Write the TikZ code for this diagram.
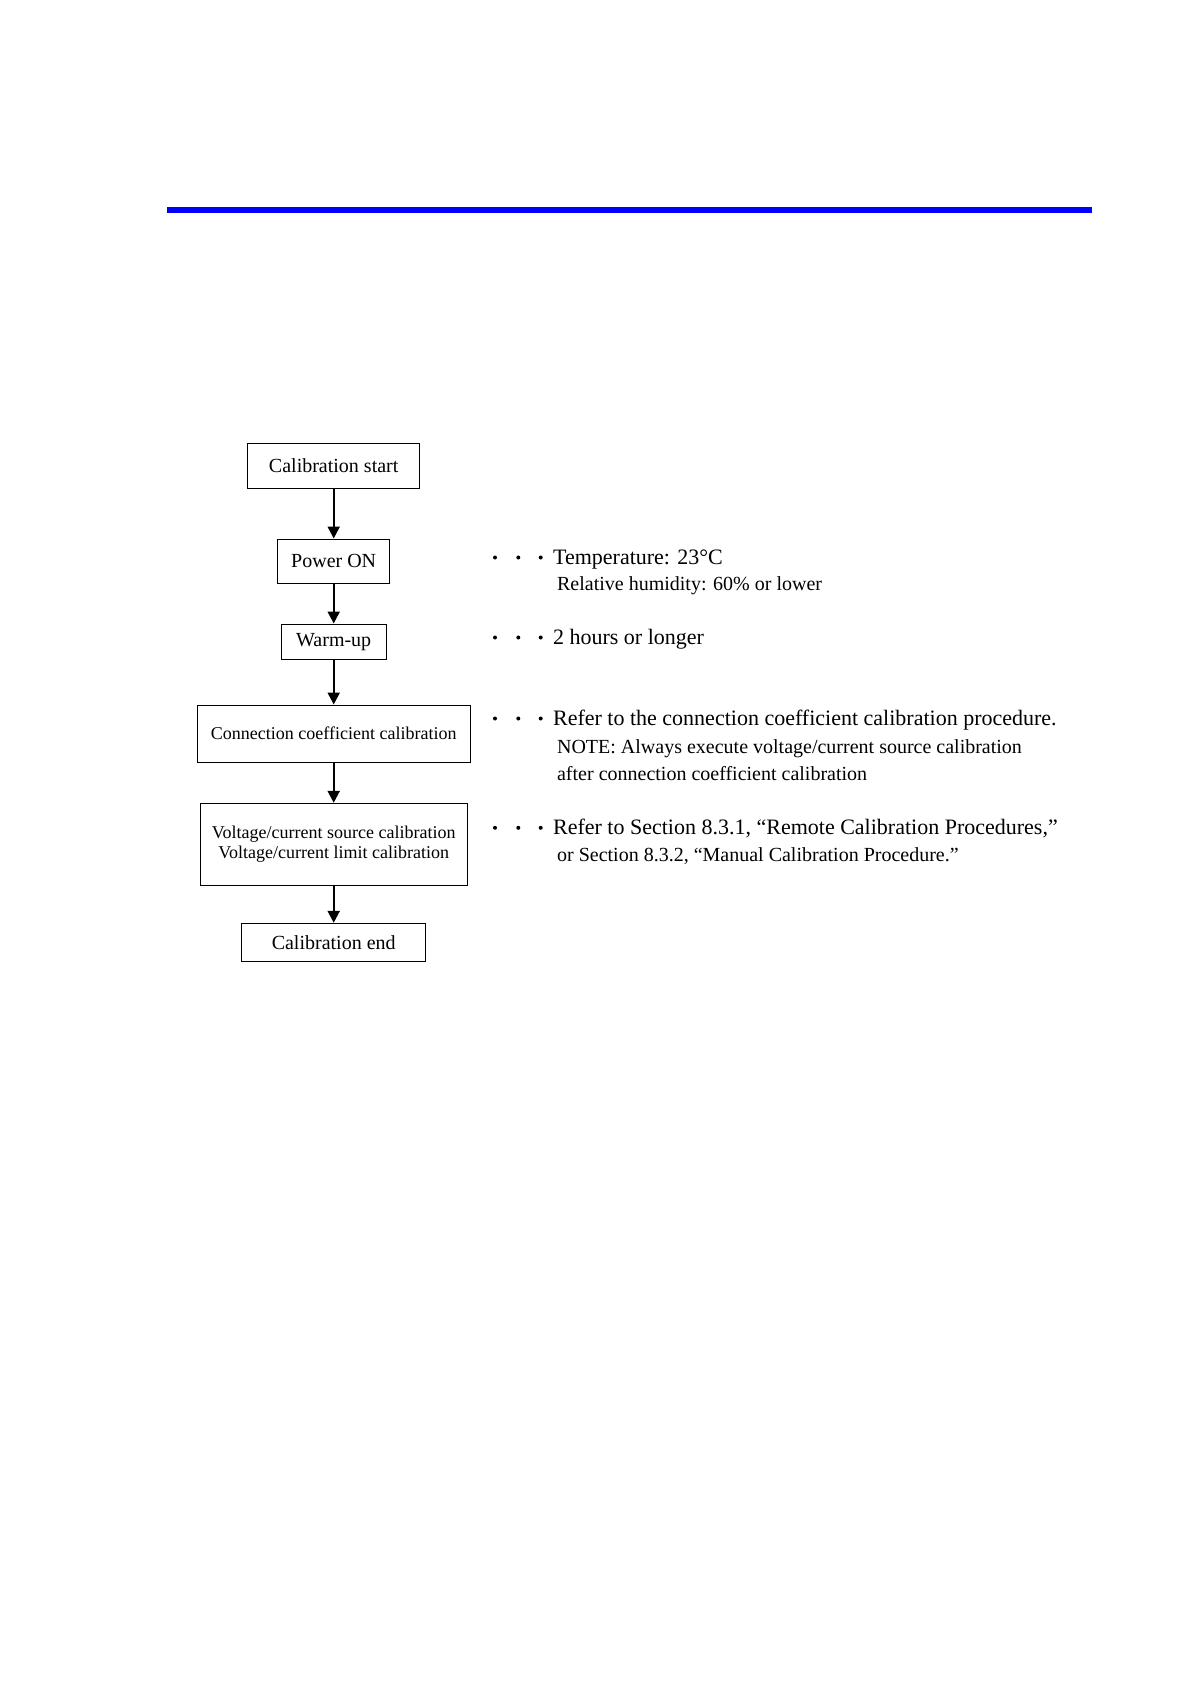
\documentclass[tikz,border=0pt]{standalone}
\usepackage{fontspec}
\setmainfont{Liberation Serif}
\usetikzlibrary{arrows.meta}
\begin{document}
\begin{tikzpicture}[x=0.5pt,y=-0.5pt,
  flowbox/.style={draw=black,line width=0.5pt,inner sep=0pt,align=center},
  ten/.style={font=\fontsize{10pt}{12pt}\selectfont},
  nine/.style={font=\fontsize{9pt}{10pt}\selectfont},
  flowarrow/.style={line width=1.1pt,-{Triangle[length=6pt,width=6pt]}},
  mainnote/.style={anchor=base west,inner sep=0pt,font=\fontsize{11pt}{13pt}\selectfont},
  subnote/.style={anchor=base west,inner sep=0pt,font=\fontsize{10pt}{12pt}\selectfont},
  leaddot/.style={fill=black,draw=none}]
\useasboundingbox (0,0) rectangle (1190,1684);
% blue rule
\fill[blue] (166.7,207) rectangle (1091.7,212.7);
% flow boxes
\node[flowbox,ten,minimum width=85.8pt,minimum height=22.7pt] (start) at (333.7,466) {Calibration start};
\node[flowbox,ten,minimum width=55.9pt,minimum height=22.4pt] (power) at (333.7,561.4) {Power ON};
\node[flowbox,ten,minimum width=52.3pt,minimum height=17.7pt] (warm) at (333.7,641.7) {Warm-up};
\node[flowbox,nine,minimum width=136.7pt,minimum height=28.5pt] (conn) at (333.7,733.5) {Connection coefficient calibration};
\node[flowbox,nine,minimum width=133.7pt,minimum height=41.2pt] (volt) at (333.7,844.5) {Voltage/current source calibration\\Voltage/current limit calibration};
\node[flowbox,ten,minimum width=92pt,minimum height=19.2pt] (end) at (333.7,942.5) {Calibration end};
% arrows
\draw[flowarrow] (start.south) -- (power.north);
\draw[flowarrow] (power.south) -- (warm.north);
\draw[flowarrow] (warm.south) -- (conn.north);
\draw[flowarrow] (conn.south) -- (volt.north);
\draw[flowarrow] (volt.south) -- (end.north);
% notes
\foreach \yy in {564,644,725,834.3}{
  \fill[leaddot] (495,\yy-6.5) circle (1pt);
  \fill[leaddot] (518.3,\yy-6.5) circle (1pt);
  \fill[leaddot] (540.7,\yy-6.5) circle (1pt);
}
\node[mainnote] (n1) at (552.7,564) {Temperature: 23°C};
\node[subnote] (n1b) at (556.7,590) {Relative humidity: 60\% or lower};
\node[mainnote] (n2) at (552.7,644) {2 hours or longer};
\node[mainnote] (n3) at (552.7,725) {Refer to the connection coefficient calibration procedure.};
\node[subnote] (n3b) at (556.7,753.3) {NOTE: Always execute voltage/current source calibration};
\node[subnote] (n3c) at (556.7,780) {after connection coefficient calibration};
\node[mainnote] (n4) at (552.7,834.3) {Refer to Section 8.3.1, “Remote Calibration Procedures,”};
\node[subnote] (n4b) at (556.7,861.7) {or Section 8.3.2, “Manual Calibration Procedure.”};
\end{tikzpicture}
\end{document}
